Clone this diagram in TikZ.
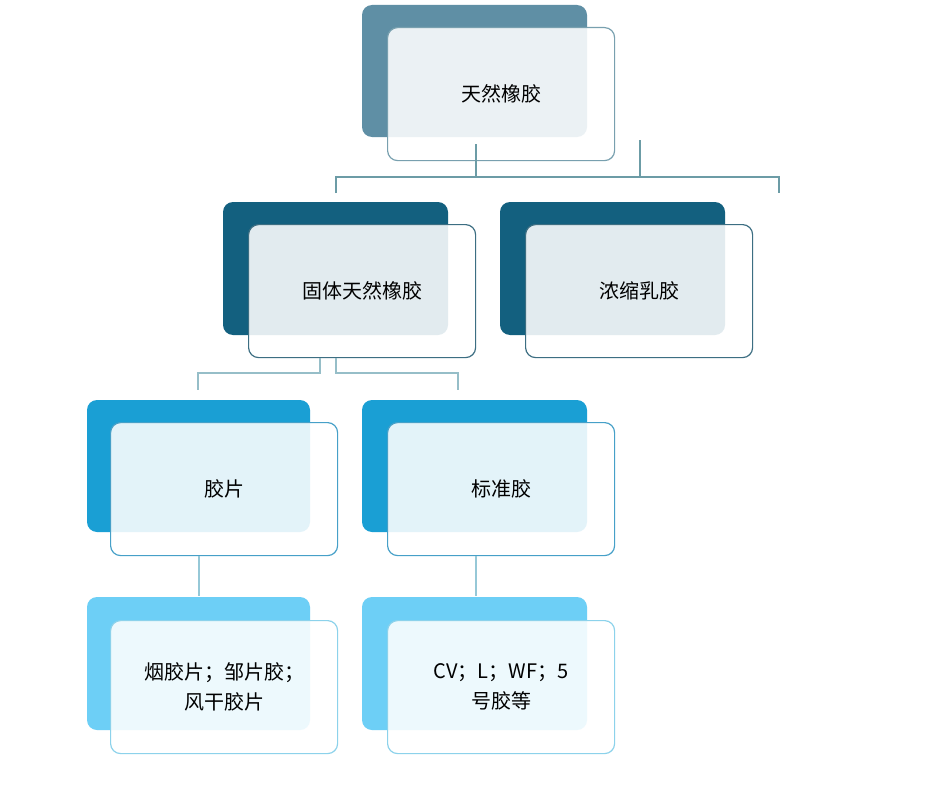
\documentclass[tikz,border=0pt]{standalone}
\usepackage{fontspec}
\setmainfont{Noto Sans CJK SC}
\definecolor{b1}{RGB}{95,143,165}\definecolor{f1}{RGB}{120,160,175}
\definecolor{b2}{RGB}{19,96,127}\definecolor{f2}{RGB}{60,110,130}
\definecolor{b3}{RGB}{26,159,212}\definecolor{f3}{RGB}{70,160,200}
\definecolor{b4}{RGB}{109,207,246}\definecolor{f4}{RGB}{140,210,235}
\definecolor{c1}{RGB}{108,156,166}\definecolor{c2}{RGB}{150,190,200}\definecolor{c3}{RGB}{150,200,215}
\begin{document}
\begin{tikzpicture}[x=1pt,y=-1pt,
 back/.style={rounded corners=10pt},
 front/.style={rounded corners=10pt,draw=#1,line width=1.2pt,fill=white,fill opacity=0.88,text opacity=1,minimum width=227pt,minimum height=133pt,anchor=north west,font=\fontsize{20}{30}\selectfont,align=center},
 conn/.style={draw=#1,line width=1.3pt}]
\useasboundingbox (0,0) rectangle (940,800);
\fill[white] (0,0) rectangle (940,800);
\fill[back,fill=b1] (362,5) rectangle (587,137);
\node[front=f1] (a) at (387,27) {天然橡胶};
\fill[back,fill=b2] (223,202) rectangle (448,335);
\node[front=f2] (b) at (248,224) {固体天然橡胶};
\fill[back,fill=b2] (500,202) rectangle (725,335);
\node[front=f2] (c) at (525,224) {浓缩乳胶};
\fill[back,fill=b3] (87,400) rectangle (310,532);
\node[front=f3] (d) at (110,422) {胶片};
\fill[back,fill=b3] (362,400) rectangle (587,532);
\node[front=f3] (e) at (387,422) {标准胶};
\fill[back,fill=b4] (87,597) rectangle (310,730);
\node[front=f4] (f) at (110,620) {烟胶片；邹片胶；\\风干胶片};
\fill[back,fill=b4] (362,597) rectangle (587,730);
\node[front=f4] (g) at (387,620) {CV；L；WF；5\\号胶等};
\coordinate (t1) at (336,193); \coordinate (t2) at (779,193);
\draw[conn=c1] (a.south) ++(-25,-17) -- ++(0,34);
\draw[conn=c1] (640,140) -- (640,177);
\draw[conn=c1] (t1) -- (336,177) -- (779,177) -- (t2);
\draw[conn=c2] (320,358) -- (320,373) -- (198,373) -- (198,390);
\draw[conn=c2] (336,358) -- (336,373) -- (458,373) -- (458,390);
\draw[conn=c3] (d.south) ++(-25,0) -- ++(0,40);
\draw[conn=c3] (e.south) ++(-25,0) -- ++(0,40);
\end{tikzpicture}
\end{document}
